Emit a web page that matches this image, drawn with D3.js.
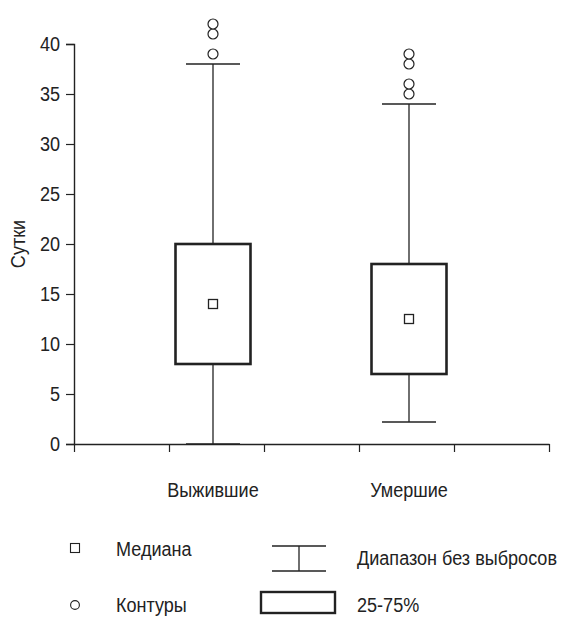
<!DOCTYPE html>
<html>
<head>
<meta charset="utf-8">
<script src="https://cdn.jsdelivr.net/npm/d3@7"></script>
<style>
    body { margin: 0; background: #fff; }
    text { font-family: "Liberation Sans", Arial, sans-serif; fill: #222; }
</style>
</head>
<body>
<div id="chart"></div>
<script>
const categories = ['Выжившие', 'Умершие'];
const q1 = [8, 7];
const q3 = [20, 18];
const medians = [14, 12.5];
const whiskerLow = [0, 2.2];
const whiskerHigh = [38, 34];
const outliers = [[39, 41, 42], [35, 36, 38, 39]];
const yTicks = [0, 5, 10, 15, 20, 25, 30, 35, 40];
const xTicks = [0, 1, 2, 3, 4, 5];

const width = 564;
const height = 617;
const ink = '#222';
const fontSize = 21;
const squeeze = 0.86;   // the original uses a condensed face

const svg = d3.select('#chart').append('svg')
    .attr('width', width)
    .attr('height', height)
    .attr('viewBox', [0, 0, width, height]);

const y = d3.scaleLinear().domain([0, 40]).range([444, 44]);
const xAxisScale = d3.scaleLinear().domain([0, 5]).range([74, 549]);
const x = d3.scaleBand().domain(categories).range([115, 507]);

const boxW = 75;
const capW = 54;

const boxes = categories.map((c, i) => ({
    cat: c,
    q1: q1[i], q3: q3[i], med: medians[i],
    lo: whiskerLow[i], hi: whiskerHigh[i],
    out: outliers[i]
}));

function label(parent, tx, ty, str, anchor, rot) {
    return parent.append('text')
        .attr('transform', `translate(${tx},${ty})` + (rot ? ` rotate(${rot})` : '') + ` scale(${squeeze},1)`)
        .attr('text-anchor', anchor || 'start')
        .attr('font-size', fontSize)
        .text(str);
}

// y axis
const yAxis = svg.append('g')
    .attr('transform', 'translate(74,0)')
    .call(d3.axisLeft(y).tickValues(yTicks).tickSize(8).tickPadding(0));
yAxis.select('.domain').attr('stroke', ink).attr('stroke-width', 1.4);
yAxis.selectAll('.tick line').attr('stroke', ink).attr('stroke-width', 1.2);
yAxis.selectAll('.tick text')
    .attr('x', -14 / squeeze)
    .attr('transform', `scale(${squeeze},1)`)
    .attr('font-size', fontSize).attr('font-family', null).attr('fill', ink);

// x axis
const xAxis = svg.append('g')
    .attr('transform', 'translate(0,444)')
    .call(d3.axisBottom(xAxisScale).tickValues(xTicks).tickSize(8).tickSizeOuter(0).tickFormat(''));
xAxis.select('.domain').attr('stroke', ink).attr('stroke-width', 1.4);
xAxis.selectAll('.tick line').attr('stroke', ink).attr('stroke-width', 1.2);

// category labels
categories.forEach(c => label(svg, x(c) + x.bandwidth() / 2, 497, c, 'middle'));

// y label
label(svg, 25, 244, 'Сутки', 'middle', -90);

const g = svg.append('g').selectAll('g')
    .data(boxes)
    .join('g')
    .attr('transform', d => `translate(${x(d.cat) + x.bandwidth() / 2},0)`);

// whiskers
g.append('line')
    .attr('x1', 0).attr('x2', 0)
    .attr('y1', d => y(d.q3)).attr('y2', d => y(d.hi))
    .attr('stroke', ink).attr('stroke-width', 1.3);
g.append('line')
    .attr('x1', 0).attr('x2', 0)
    .attr('y1', d => y(d.q1)).attr('y2', d => y(d.lo))
    .attr('stroke', ink).attr('stroke-width', 1.3);
g.append('line')
    .attr('x1', -capW / 2).attr('x2', capW / 2)
    .attr('y1', d => y(d.hi)).attr('y2', d => y(d.hi))
    .attr('stroke', ink).attr('stroke-width', 1.4);
g.append('line')
    .attr('x1', -capW / 2).attr('x2', capW / 2)
    .attr('y1', d => y(d.lo)).attr('y2', d => y(d.lo))
    .attr('stroke', ink).attr('stroke-width', 1.4);

// boxes
g.append('rect')
    .attr('x', -boxW / 2)
    .attr('width', boxW)
    .attr('y', d => y(d.q3))
    .attr('height', d => y(d.q1) - y(d.q3))
    .attr('fill', '#fff')
    .attr('stroke', ink)
    .attr('stroke-width', 2.6);

// medians
g.append('rect')
    .attr('x', -4.5).attr('width', 9)
    .attr('y', d => y(d.med) - 4.5).attr('height', 9)
    .attr('fill', '#fff').attr('stroke', ink).attr('stroke-width', 1.3);

// outliers
g.selectAll('circle')
    .data(d => d.out)
    .join('circle')
    .attr('cx', 0)
    .attr('cy', d => y(d))
    .attr('r', 5)
    .attr('fill', '#fff')
    .attr('stroke', ink)
    .attr('stroke-width', 1.2);

// legend
const leg = svg.append('g');
leg.append('rect').attr('x', 70.5).attr('y', 543.5).attr('width', 9).attr('height', 9)
    .attr('fill', '#fff').attr('stroke', ink).attr('stroke-width', 1.1);
label(leg, 116, 556, 'Медиана');
leg.append('circle').attr('cx', 75).attr('cy', 605).attr('r', 4.4)
    .attr('fill', '#fff').attr('stroke', ink).attr('stroke-width', 1.1);
label(leg, 116, 612, 'Контуры');

leg.append('line').attr('x1', 272).attr('x2', 326).attr('y1', 546).attr('y2', 546)
    .attr('stroke', ink).attr('stroke-width', 1.3);
leg.append('line').attr('x1', 272).attr('x2', 326).attr('y1', 571).attr('y2', 571)
    .attr('stroke', ink).attr('stroke-width', 1.3);
leg.append('line').attr('x1', 299).attr('x2', 299).attr('y1', 546).attr('y2', 571)
    .attr('stroke', ink).attr('stroke-width', 1.3);
label(leg, 357, 565, 'Диапазон без выбросов');

leg.append('rect').attr('x', 261).attr('y', 592).attr('width', 74).attr('height', 21)
    .attr('fill', '#fff').attr('stroke', ink).attr('stroke-width', 2.4);
label(leg, 357, 612, '25-75%');
</script>
</body>
</html>
